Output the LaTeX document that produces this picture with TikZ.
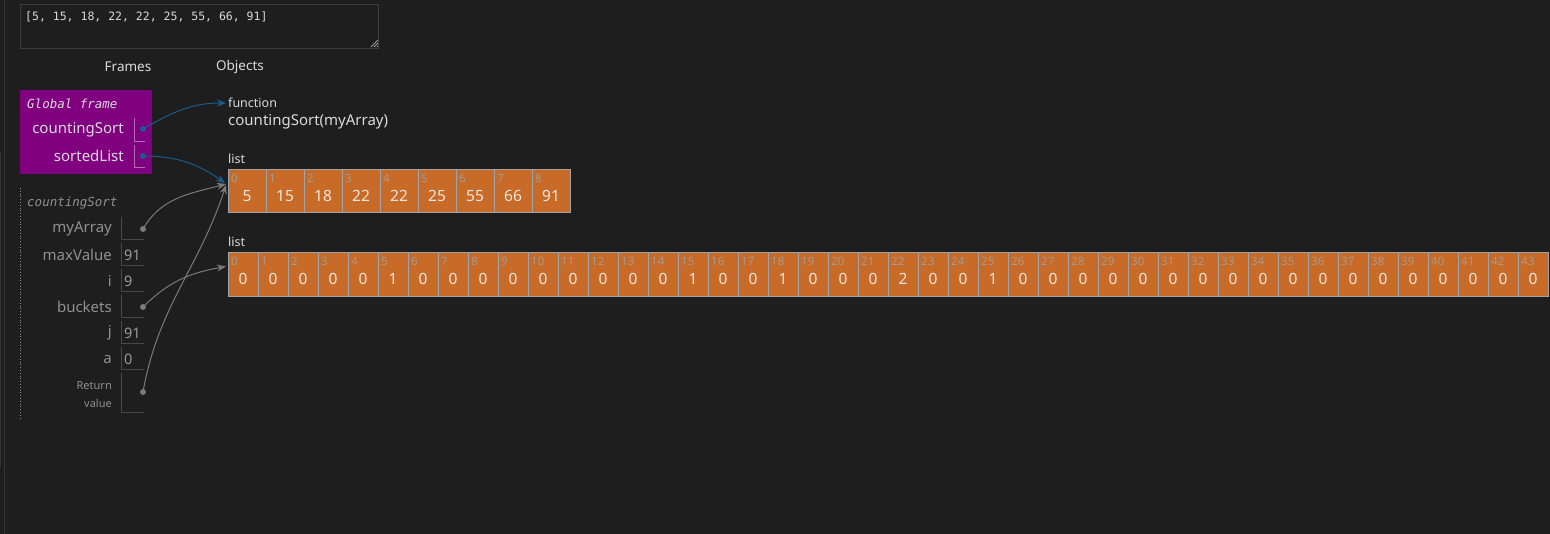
\documentclass[tikz,border=0pt]{standalone}
\usepackage{fontspec}
\setmainfont{Noto Sans}
\setmonofont{DejaVu Sans Mono}
\usetikzlibrary{arrows.meta}
\definecolor{bg}{HTML}{1E1E1E}
\definecolor{boxline}{HTML}{3C3C3C}
\definecolor{lighttxt}{HTML}{DADADA}
\definecolor{gframe}{HTML}{800080}
\definecolor{gbracket}{HTML}{B070B0}
\definecolor{ptrblue}{HTML}{1B5C8C}
\definecolor{ptrgray}{HTML}{7A7A7A}
\definecolor{fgray}{HTML}{909090}
\definecolor{valgray}{HTML}{9A9A9A}
\definecolor{cellfill}{HTML}{C86A28}
\definecolor{cellline}{HTML}{A0A4A8}
\definecolor{idxcol}{HTML}{A89A8A}
\definecolor{valcol}{HTML}{F0E8E0}
\definecolor{sideline}{HTML}{353535}
\tikzset{
  txt/.style={inner sep=0pt, text=lighttxt, font=\fontsize{13.5}{15}\selectfont},
  bigtxt/.style={inner sep=0pt, text=lighttxt, font=\fontsize{15}{17}\selectfont},
  smalltxt/.style={inner sep=0pt, text=lighttxt, font=\fontsize{12.5}{14}\selectfont},
  gvar/.style={inner sep=0pt, anchor=east, text=lighttxt, font=\fontsize{15}{17}\selectfont},
  fvar/.style={inner sep=0pt, anchor=east, text=fgray, font=\fontsize{15}{17}\selectfont},
  fval/.style={inner sep=0pt, anchor=west, text=valgray, font=\fontsize{14.5}{16}\selectfont},
  dotb/.style={circle, fill=ptrblue, inner sep=0pt, minimum size=6pt},
  dotg/.style={circle, fill=ptrgray, inner sep=0pt, minimum size=6pt},
  bptr/.style={draw=ptrblue, line width=1pt, -{Stealth[length=9pt,width=7pt]}},
  gptr/.style={draw=ptrgray, line width=1pt, -{Stealth[length=9pt,width=7pt]}},
  cellA/.style={draw=cellline, fill=cellfill, line width=1pt, anchor=north west, minimum width=38pt, minimum height=43pt, inner sep=0pt},
  cellB/.style={draw=cellline, fill=cellfill, line width=1pt, anchor=north west, minimum width=30pt, minimum height=44pt, inner sep=0pt},
  idx/.style={inner sep=0pt, anchor=west, text=idxcol, font=\fontsize{11.5}{13}\selectfont},
  val/.style={inner sep=0pt, text=valcol, font=\fontsize{15.5}{17}\selectfont},
}
\begin{document}
\begin{tikzpicture}[x=1pt,y=-1pt]
\fill[bg] (0,0) rectangle (1550,534);
\useasboundingbox (0,0) rectangle (1550,534);
% side lines
\draw[sideline, line width=1pt] (4.5,0) -- (4.5,534);
\draw[sideline, line width=1pt] (0.5,152) -- (0.5,467);
% text area
\node[draw=boxline, line width=1pt, anchor=north west, minimum width=358pt, minimum height=44pt, inner sep=0pt] (ta) at (20,4) {};
\node[inner sep=0pt, anchor=west, text=lighttxt, font=\ttfamily\fontsize{11.5}{14}\selectfont] (tatext) at (25,17) {[5, 15, 18, 22, 22, 25, 55, 66, 91]};
\draw[valgray, line width=0.8pt] (371,47) -- (378,40) (374,47) -- (378,43) (377,47) -- (378,46);
% headers
\node[txt] (frames) at (128,67) {Frames};
\node[txt] (objects) at (240,67) {Objects};
% global frame
\node[fill=gframe, anchor=north west, minimum width=132pt, minimum height=84pt, inner sep=0pt] (gf) at (20,90) {};
\node[inner sep=0pt, anchor=west, text=lighttxt, font=\ttfamily\itshape\fontsize{12.5}{14}\selectfont] (gft) at (27,104) {Global frame};
\node[gvar] (gv1) at (124,130) {countingSort};
\node[gvar] (gv2) at (124,156) {sortedList};
\draw[gbracket, line width=1pt] (134,118) -- (134,142) -- (145,142);
\draw[gbracket, line width=1pt] (134,145) -- (134,168) -- (145,168);
\node[dotb] (gd1) at (143,129) {};
\node[dotb] (gd2) at (143,156) {};
% function object
\node[smalltxt, anchor=west] (fnl) at (228,103) {function};
\node[bigtxt, anchor=west] (fn) at (228,122) {countingSort(myArray)};
% list 1
\node[smalltxt, anchor=west] (l1) at (228,159) {list};
\foreach \i/\v in {0/5,1/15,2/18,3/22,4/22,5/25,6/55,7/66,8/91}{
  \node[cellA] (a\i) at ({228+38*\i},169) {};
  \node[idx] (ai\i) at ({231+38*\i},178) {\i};
  \node[val] (av\i) at ({247+38*\i},196) {\v};
}
% list 2
\node[smalltxt, anchor=west] (l2) at (228,242) {list};
\foreach \i/\v in {0/0,1/0,2/0,3/0,4/0,5/1,6/0,7/0,8/0,9/0,10/0,11/0,12/0,13/0,14/0,15/1,16/0,17/0,18/1,19/0,20/0,21/0,22/2,23/0,24/0,25/1,26/0,27/0,28/0,29/0,30/0,31/0,32/0,33/0,34/0,35/0,36/0,37/0,38/0,39/0,40/0,41/0,42/0,43/0}{
  \node[cellB] (b\i) at ({228+30*\i},252) {};
  \node[idx] (bi\i) at ({231+30*\i},261) {\i};
  \node[val] (bv\i) at ({243+30*\i},279) {\v};
}
% countingSort frame
\draw[fgray, dotted, line width=0.8pt] (20.5,188) -- (20.5,418);
\node[inner sep=0pt, anchor=west, text=fgray, font=\ttfamily\itshape\fontsize{12.5}{14}\selectfont] (cst) at (27,203) {countingSort};
\node[fvar] (f1) at (112,229) {myArray};
\node[fvar] (f2) at (112,255) {maxValue};
\node[fvar] (f3) at (112,281) {i};
\node[fvar] (f4) at (112,307) {buckets};
\node[fvar] (f5) at (112,333) {j};
\node[fvar] (f6) at (112,359) {a};
\node[inner sep=0pt, anchor=east, text=fgray, font=\fontsize{11}{12}\selectfont] (f7a) at (112,386) {Return};
\node[inner sep=0pt, anchor=east, text=fgray, font=\fontsize{11}{12}\selectfont] (f7b) at (112,403) {value};
\foreach \y in {217,243,269,295,321,347}{
  \draw[boxline!80!gray, line width=1pt] (121.5,\y) -- (121.5,\y+23) -- (144,\y+23);
}
\draw[boxline!80!gray, line width=1pt] (121.5,373) -- (121.5,412) -- (144,412);
\node[fval] (fv2) at (124,255) {91};
\node[fval] (fv3) at (124,281) {9};
\node[fval] (fv5) at (124,333) {91};
\node[fval] (fv6) at (124,359) {0};
\node[dotg] (fd1) at (143,229) {};
\node[dotg] (fd4) at (143,307) {};
\node[dotg] (fd7) at (143,392) {};
% pointers
\draw[gptr] (fd1.center) to[out=60,in=195] ([xshift=-2pt,yshift=7pt]a0.west);
\draw[gptr] (fd7.center) to[out=80,in=252] ([xshift=-2pt,yshift=6pt]a0.west);
\draw[gptr] (fd4.center) to[out=45,in=190] ([xshift=-2pt,yshift=8pt]b0.west);
\draw[bptr] (gd1.center) to[out=30,in=180] ([xshift=-2pt]fnl.west);
\draw[bptr] (gd2.center) to[out=0,in=145] ([xshift=-3pt,yshift=8pt]a0.west);
\end{tikzpicture}
\end{document}
